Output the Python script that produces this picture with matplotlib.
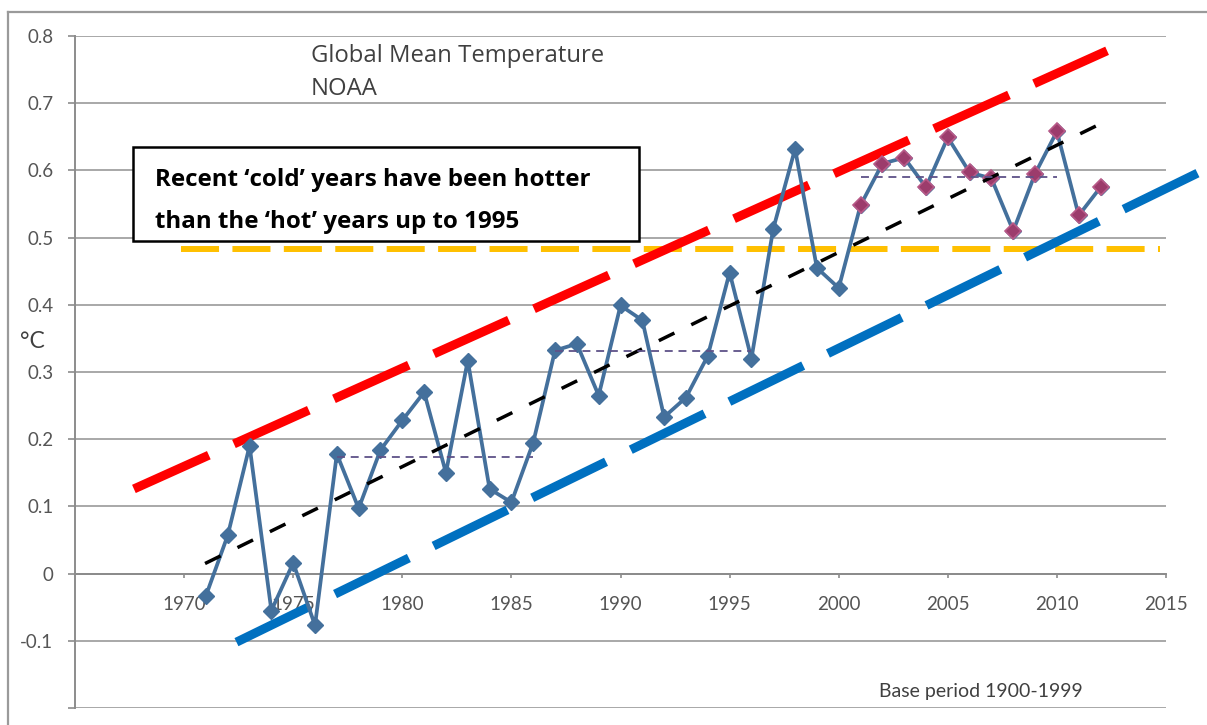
import matplotlib
matplotlib.use("Agg")
import matplotlib.pyplot as plt
from matplotlib.patches import Rectangle
from matplotlib.lines import Line2D

# anomalias anuais (NOAA)
years = list(range(1971, 2013))
temps = [-0.033, 0.057, 0.19, -0.055, 0.016, -0.077, 0.178, 0.097, 0.184, 0.228,
         0.27, 0.15, 0.317, 0.126, 0.106, 0.195, 0.332, 0.342, 0.265, 0.399,
         0.377, 0.233, 0.262, 0.324, 0.448, 0.32, 0.513, 0.632, 0.455, 0.425,
         0.548, 0.61, 0.619, 0.575, 0.649, 0.597, 0.588, 0.51, 0.595, 0.658,
         0.533, 0.575]
recent_from = 2001

# linhas desenhadas à mão no gráfico original
trend_x, trend_y = [1970.96, 2012.1], [0.015, 0.671]
upper_x, upper_y = [1967.7, 2012.3], [0.126, 0.778]
lower_x, lower_y = [1972.4, 2016.45], [-0.102, 0.596]
hot_x, hot_level = [1969.84, 2014.72], 0.483
period_means = [(1977, 1986, 0.173), (1987, 1996, 0.331), (2001, 2010, 0.59)]

x_ticks = [1970, 1975, 1980, 1985, 1990, 1995, 2000, 2005, 2010, 2015]
y_ticks = [-0.2, -0.1, 0, 0.1, 0.2, 0.3, 0.4, 0.5, 0.6, 0.7, 0.8]
y_labels = ["", "-0.1", "0", "0.1", "0.2", "0.3", "0.4", "0.5", "0.6", "0.7", "0.8"]

plt.rcParams['font.family'] = ['Lato', 'DejaVu Sans']

W, H = 1207, 725
fig = plt.figure(figsize=(W / 100, H / 100), dpi=100)


def fx(px):
    return px / W


def fy(py):
    return 1 - py / H


ax = fig.add_axes([fx(75), fy(708), fx(1166) - fx(75), fy(36) - fy(708)])
ax.set_xlim(1965, 2015)
ax.set_ylim(-0.2, 0.8)

grey = "#8C8C8C"
ax.set_yticks(y_ticks)
ax.set_yticklabels(y_labels)
ax.set_xticks(x_ticks)
ax.set_xticklabels([str(t) for t in x_ticks])
ax.yaxis.grid(True, color="#A8A8A8", lw=1.4)
ax.set_axisbelow(True)
for s in ["top", "right"]:
    ax.spines[s].set_visible(False)
ax.spines["left"].set_color(grey)
ax.spines["left"].set_linewidth(1.4)
ax.spines["bottom"].set_position(("data", 0))
ax.spines["bottom"].set_color(grey)
ax.spines["bottom"].set_linewidth(1.4)
ax.tick_params(axis="y", direction="out", length=5, width=1.2, color=grey,
               pad=10.5, labelsize=13.5, labelcolor="#555555")
ax.tick_params(axis="x", direction="out", length=3, width=1.2, color=grey,
               pad=13, labelsize=13.5, labelcolor="#555555")

# linha amarela: nível dos anos 'quentes' até 1995
ax.plot(hot_x, [hot_level, hot_level], color="#FFC000", lw=4.3,
        dashes=(6.37, 2.24), zorder=2)

# canal superior e inferior
ax.plot(upper_x, upper_y, color="#FF0000", lw=6.5, dashes=(9.1, 3.05), zorder=3)
ax.plot(lower_x, lower_y, color="#0070C0", lw=6.5, dashes=(9.1, 3.05), zorder=3,
        clip_on=False)

# série de temperaturas
ax.plot(years, temps, color="#44709C", lw=2.7, marker="D", ms=8,
        mfc="#44709C", mec="#44709C", zorder=4)
rec_x = [y for y in years if y >= recent_from]
rec_y = [t for y, t in zip(years, temps) if y >= recent_from]
ax.plot(rec_x, rec_y, ls="none", marker="D", ms=8.5, mfc="#9C3C6C",
        mec="#B85A88", mew=1.2, zorder=5)

# tendência e médias por período
ax.plot(trend_x, trend_y, color="black", lw=2.5, dashes=(5.0, 5.4), zorder=6)
for x0, x1, m in period_means:
    ax.plot([x0, x1], [m, m], color="#5E5288", lw=1.3, dashes=(4.4, 3.2), zorder=6)

# textos
fig.text(fx(311), fy(62), "Global Mean Temperature", fontsize=17.2,
         color="#404040", va="baseline", ha="left", family="Open Sans")
fig.text(fx(311), fy(95), "NOAA", fontsize=17.2, color="#404040",
         va="baseline", ha="left", family="Open Sans")
fig.text(fx(32), fy(341), "°C", fontsize=16.5, color="#404040",
         ha="center", va="center")
fig.text(fx(981), fy(692), "Base period 1900-1999", fontsize=14,
         color="#404040", ha="center", va="center")

box = Rectangle((fx(133), fy(241)), fx(639) - fx(133), fy(147) - fy(241),
                transform=fig.transFigure, facecolor="white",
                edgecolor="black", lw=1.8, zorder=7)
fig.patches.append(box)
fig.text(fx(155), fy(186), "Recent \u2018cold\u2019 years have been hotter",
         fontsize=17.4, fontweight="bold", color="black", va="baseline",
         zorder=8, family="Open Sans")
fig.text(fx(155), fy(228), "than the \u2018hot\u2019 years up to 1995",
         fontsize=17.4, fontweight="bold", color="black", va="baseline",
         zorder=8, family="Open Sans")

# moldura externa da captura
fig.lines.append(Line2D([fx(8), fx(8)], [fy(12), 0], transform=fig.transFigure,
                        color="#9A9A9A", lw=1.6))
fig.lines.append(Line2D([fx(8), 1], [fy(12), fy(12)], transform=fig.transFigure,
                        color="#9A9A9A", lw=1.6))

fig.savefig("out.png", dpi=100)
